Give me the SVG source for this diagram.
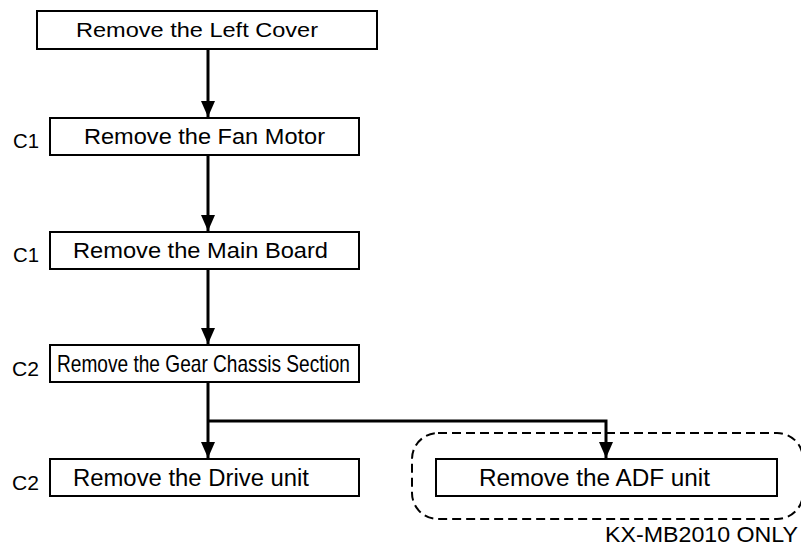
<svg xmlns="http://www.w3.org/2000/svg" width="801" height="549" viewBox="0 0 801 549">
<style>
.box{fill:#fff;stroke:#000;stroke-width:2}
.t{font-family:"Liberation Sans",Arial,sans-serif;fill:#000}
.c{fill:none;stroke:#000;stroke-width:3}
.dash{fill:none;stroke:#000;stroke-width:2;stroke-dasharray:9,5}
</style>
<defs>
<marker id="ah" markerUnits="userSpaceOnUse" markerWidth="16" markerHeight="14" refX="16" refY="7" orient="auto">
<path d="M0,0 L16,7 L0,14 z" fill="#000"/>
</marker>
</defs>
<g id="connectors">
<path class="c" d="M208,50 V117" marker-end="url(#ah)"/>
<path class="c" d="M208,156 V231" marker-end="url(#ah)"/>
<path class="c" d="M208,270 V344" marker-end="url(#ah)"/>
<path class="c" d="M208,383 V458" marker-end="url(#ah)"/>
<path class="c" d="M208,421 H606 V458" marker-end="url(#ah)"/>
</g>
<g id="n1">
<rect class="box" x="37" y="11" width="340" height="38"/>
<text class="t" x="76" y="36.5" font-size="21" textLength="242" lengthAdjust="spacingAndGlyphs">Remove the Left Cover</text>
</g>
<g id="n2">
<rect class="box" x="50" y="118" width="309" height="37"/>
<text class="t" x="84" y="144.3" font-size="21.5" textLength="241" lengthAdjust="spacingAndGlyphs">Remove the Fan Motor</text>
<text class="t" x="13" y="148" font-size="20" textLength="26" lengthAdjust="spacingAndGlyphs">C1</text>
</g>
<g id="n3">
<rect class="box" x="50" y="232" width="309" height="37"/>
<text class="t" x="73" y="258.3" font-size="21.5" textLength="255" lengthAdjust="spacingAndGlyphs">Remove the Main Board</text>
<text class="t" x="13" y="262" font-size="20" textLength="26" lengthAdjust="spacingAndGlyphs">C1</text>
</g>
<g id="n4">
<rect class="box" x="50" y="345" width="309" height="37"/>
<text class="t" x="57" y="372.3" font-size="24" textLength="293" lengthAdjust="spacingAndGlyphs">Remove the Gear Chassis Section</text>
<text class="t" x="12" y="375.7" font-size="21" textLength="27" lengthAdjust="spacingAndGlyphs">C2</text>
</g>
<g id="n5">
<rect class="box" x="50" y="459" width="309" height="37"/>
<text class="t" x="73" y="486.3" font-size="23" textLength="236" lengthAdjust="spacingAndGlyphs">Remove the Drive unit</text>
<text class="t" x="12" y="489.7" font-size="21" textLength="27" lengthAdjust="spacingAndGlyphs">C2</text>
</g>
<g id="n6">
<rect class="dash" x="412" y="433" width="391" height="86" rx="26" ry="26"/>
<rect class="box" x="436" y="459" width="341" height="37"/>
<text class="t" x="479" y="486.3" font-size="23" textLength="231" lengthAdjust="spacingAndGlyphs">Remove the ADF unit</text>
<text class="t" x="605" y="541.5" font-size="22" textLength="193" lengthAdjust="spacingAndGlyphs">KX-MB2010 ONLY</text>
</g>
</svg>
